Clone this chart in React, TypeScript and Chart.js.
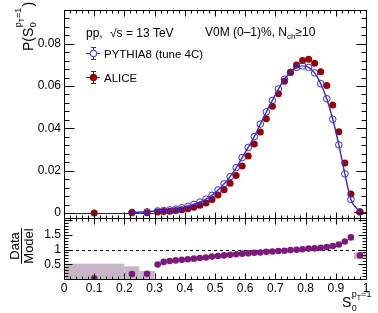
import { useEffect, useRef } from 'react';
import { Chart, registerables } from 'chart.js';

Chart.register(...registerables);

const FONT = '"Liberation Sans", Arial, Helvetica, sans-serif';
const RED = '#990000';
const BLUE = '#3a2ac8';
const PURPLE = '#7b1a7b';
const SYS = '#c8b5c8';

// bin centres of the measurement
const xPoints = [0.1, 0.225, 0.275, 0.31, 0.33, 0.35, 0.37, 0.39, 0.41, 0.43, 0.45, 0.47, 0.49, 0.51, 0.53, 0.55, 0.57, 0.59, 0.61, 0.63, 0.65, 0.67, 0.69, 0.71, 0.73, 0.75, 0.77, 0.79, 0.81, 0.83, 0.85, 0.87, 0.89, 0.91, 0.93, 0.95, 0.98];
// ALICE data P(S0)
const aliceY = [0.0000, 0.0001, 0.0002, 0.0005, 0.0007, 0.0009, 0.0012, 0.0016, 0.0021, 0.0028, 0.0037, 0.0048, 0.0064, 0.0085, 0.0110, 0.0141, 0.0178, 0.0222, 0.0270, 0.0326, 0.0383, 0.0445, 0.0505, 0.0564, 0.0622, 0.0664, 0.0699, 0.0720, 0.0726, 0.0707, 0.0667, 0.0603, 0.0510, 0.0384, 0.0236, 0.0090, 0.0006];
// PYTHIA8 (tune 4C)
const pythiaX = [0.225, 0.275, 0.31, 0.33, 0.35, 0.37, 0.39, 0.41, 0.43, 0.45, 0.47, 0.49, 0.51, 0.53, 0.55, 0.57, 0.59, 0.61, 0.63, 0.65, 0.67, 0.69, 0.71, 0.73, 0.75, 0.77, 0.79, 0.81, 0.83, 0.85, 0.87, 0.89, 0.91, 0.93, 0.95, 0.98];
const pythiaY = [0.0003, 0.0006, 0.0010, 0.0012, 0.0015, 0.0019, 0.0025, 0.0031, 0.0041, 0.0052, 0.0066, 0.0084, 0.0109, 0.0138, 0.0172, 0.0214, 0.0262, 0.0310, 0.0361, 0.0420, 0.0478, 0.0532, 0.0586, 0.0632, 0.0665, 0.0688, 0.0695, 0.0688, 0.0662, 0.0611, 0.0540, 0.0443, 0.0322, 0.0185, 0.0064, 0.0005];
// Data / Model
const ratioY = [0.02, 0.17, 0.18, 0.49, 0.58, 0.61, 0.63, 0.65, 0.67, 0.69, 0.71, 0.73, 0.76, 0.78, 0.80, 0.82, 0.84, 0.86, 0.87, 0.89, 0.90, 0.92, 0.93, 0.95, 0.96, 0.98, 0.99, 1.01, 1.03, 1.04, 1.06, 1.08, 1.12, 1.17, 1.27, 1.41, 0.80];
// systematic boxes in the ratio panel
const sysX0 = [0, 0.2, 0.25, 0.30, 0.96];
const sysX1 = [0.2, 0.25, 0.3, 0.32, 1.0];
const sysLo = [0, 0, 0, 0.43, 0.68];
const sysHi = [0.52, 0.43, 0.27, 0.55, 0.9];
// wide bins of the data (horizontal bars)
const wideIdx = [0, 1, 2, 36];
const wideLo = [0, 0.2, 0.25, 0.96];
const wideHi = [0.2, 0.25, 0.3, 1.0];
// tick labels
const xTicks = [0, 0.1, 0.2, 0.3, 0.4, 0.5, 0.6, 0.7, 0.8, 0.9, 1];
const xTickLabels = ['0', '0.1', '0.2', '0.3', '0.4', '0.5', '0.6', '0.7', '0.8', '0.9', '1'];
const yTicks = [0, 0.02, 0.04, 0.06, 0.08];
const yTickLabels = ['0', '0.02', '0.04', '0.06', '0.08'];
const rTicks = [0.5, 1, 1.5];
const rTickLabels = ['0.5', '1', '1.5'];

const px = (v: number) => Math.round(v) + 0.5;

function seg(ctx: CanvasRenderingContext2D, x1: number, y1: number, x2: number, y2: number) {
  ctx.beginPath();
  ctx.moveTo(x1, y1);
  ctx.lineTo(x2, y2);
  ctx.stroke();
}

function legendMarker(ctx: CanvasRenderingContext2D, cx: number, cy: number, color: string, filled: boolean) {
  ctx.strokeStyle = color;
  ctx.lineWidth = 1;
  seg(ctx, cx - 7, cy + 0.5, cx + 7, cy + 0.5);
  seg(ctx, cx + 0.5, cy - 6, cx + 0.5, cy + 7);
  seg(ctx, cx - 2, cy - 5.5, cx + 3, cy - 5.5);
  seg(ctx, cx - 2, cy + 6.5, cx + 3, cy + 6.5);
  ctx.beginPath();
  ctx.arc(cx + 0.5, cy + 0.5, 3.3, 0, Math.PI * 2);
  ctx.fillStyle = filled ? color : '#fff';
  ctx.fill();
  ctx.stroke();
}

const decor = {
  id: 'decor',
  beforeDatasetsDraw(chart: any) {
    const ctx: CanvasRenderingContext2D = chart.ctx;
    const x = chart.scales.x, yT = chart.scales.y, yR = chart.scales.yR;
    ctx.save();
    ctx.fillStyle = SYS;
    for (let i = 0; i < sysX0.length; i++) {
      const l = x.getPixelForValue(sysX0[i]);
      const r = x.getPixelForValue(sysX1[i]);
      const t = yR.getPixelForValue(sysHi[i]);
      const b = yR.getPixelForValue(sysLo[i]);
      ctx.fillRect(l, t, r - l, b - t);
    }
    ctx.strokeStyle = '#000';
    ctx.lineWidth = 1;
    ctx.setLineDash([3, 3]);
    const y1 = px(yR.getPixelForValue(1));
    seg(ctx, chart.chartArea.left, y1, chart.chartArea.right, y1);
    ctx.setLineDash([]);
    ctx.strokeStyle = RED;
    for (let i = 0; i < wideIdx.length; i++) {
      const yy = px(yT.getPixelForValue(aliceY[wideIdx[i]]));
      seg(ctx, x.getPixelForValue(wideLo[i]), yy, x.getPixelForValue(wideHi[i]), yy);
    }
    ctx.restore();
  },
  afterDraw(chart: any) {
    const ctx: CanvasRenderingContext2D = chart.ctx;
    const x = chart.scales.x, yT = chart.scales.y, yR = chart.scales.yR;
    const L = px(chart.chartArea.left), R = px(chart.chartArea.right);
    const T = px(yT.top), M = px(yT.bottom), B = px(yR.bottom);
    ctx.save();
    ctx.strokeStyle = '#000';
    ctx.lineWidth = 1;
    ctx.strokeRect(L, T, R - L, B - T);
    seg(ctx, L, M, R, M);
    for (let i = 0; i <= 50; i++) {
      const X = px(x.getPixelForValue(i / 50));
      const major = i % 5 === 0;
      const lt = major ? 6 : 3;
      seg(ctx, X, T, X, T + lt);
      seg(ctx, X, M, X, M - lt);
      seg(ctx, X, M, X, M + lt);
      seg(ctx, X, B, X, B - lt);
    }
    for (let i = 0; i <= 23; i++) {
      const Y = px(yT.getPixelForValue(i * 0.004));
      if (Y <= T) continue;
      const lt = i % 5 === 0 ? 10 : 5;
      seg(ctx, L, Y, L + lt, Y);
      seg(ctx, R, Y, R - lt, Y);
    }
    for (let i = 1; i <= 20; i++) {
      const Y = px(yR.getPixelForValue(i * 0.1));
      if (Y <= M) continue;
      const lt = i % 5 === 0 ? 8 : 4;
      seg(ctx, L, Y, L + lt, Y);
      seg(ctx, R, Y, R - lt, Y);
    }

    // header texts
    ctx.fillStyle = '#000';
    ctx.textAlign = 'left';
    ctx.textBaseline = 'alphabetic';
    ctx.font = `12px ${FONT}`;
    ctx.fillText('pp,', 86, 37);
    ctx.fillText('\u221As = 13 TeV', 110, 37);
    const t1 = 'V0M (0\u20131)%, N';
    ctx.fillText(t1, 205, 36);
    let w = ctx.measureText(t1).width;
    ctx.font = `8px ${FONT}`;
    ctx.fillText('ch', 205 + w, 39);
    w += ctx.measureText('ch').width;
    ctx.font = `12px ${FONT}`;
    ctx.fillText('\u226510', 205 + w, 36);

    // legend
    legendMarker(ctx, 93, 53, BLUE, false);
    legendMarker(ctx, 93, 77, RED, true);
    ctx.fillStyle = '#000';
    ctx.font = `11.5px ${FONT}`;
    ctx.fillText('PYTHIA8 (tune 4C)', 104, 58);
    ctx.fillText('ALICE', 104, 82);

    // y title
    ctx.save();
    ctx.translate(33, 51);
    ctx.rotate(-Math.PI / 2);
    ctx.font = `14px ${FONT}`;
    ctx.fillText('P(S', 0, 0);
    const a = ctx.measureText('P(S').width + 0.5;
    ctx.font = `9px ${FONT}`;
    ctx.fillText('0', a, 3);
    ctx.fillText('p', a, -12);
    let b = a + ctx.measureText('p').width;
    ctx.font = `7px ${FONT}`;
    ctx.fillText('T', b, -9.5);
    b += ctx.measureText('T').width;
    ctx.font = `9px ${FONT}`;
    ctx.fillText('=1', b, -12);
    b += ctx.measureText('=1').width + 1;
    ctx.font = `14px ${FONT}`;
    ctx.fillText(')', b, 0);
    ctx.restore();

    // ratio title
    ctx.save();
    ctx.translate(21, 246);
    ctx.rotate(-Math.PI / 2);
    ctx.font = `13px ${FONT}`;
    ctx.textAlign = 'center';
    ctx.fillText('Data', 0, -2);
    ctx.fillText('Model', 0, 12);
    const mw = ctx.measureText('Model').width;
    ctx.strokeStyle = '#000';
    seg(ctx, -mw / 2, 0.5, mw / 2, 0.5);
    ctx.restore();

    // x title
    ctx.font = `14px ${FONT}`;
    ctx.fillText('S', 342, 307);
    const sw = ctx.measureText('S').width + 0.5;
    ctx.font = `9px ${FONT}`;
    ctx.fillText('0', 342 + sw, 311);
    ctx.fillText('p', 342 + sw, 297);
    let c = 342 + sw + ctx.measureText('p').width;
    ctx.font = `7px ${FONT}`;
    ctx.fillText('T', c, 299.5);
    c += ctx.measureText('T').width;
    ctx.font = `9px ${FONT}`;
    ctx.fillText('=1', c, 297);
    ctx.restore();
  },
};

export default function App() {
  const ref = useRef<HTMLCanvasElement>(null);
  useEffect(() => {
    const tickFont = { family: FONT, size: 12 };
    const chart = new Chart(ref.current as HTMLCanvasElement, {
      type: 'line',
      data: {
        datasets: [
          {
            label: 'PYTHIA8 (tune 4C)',
            data: pythiaX.map((v, i) => ({ x: v, y: pythiaY[i] })),
            yAxisID: 'y',
            borderColor: BLUE,
            borderWidth: 1.4,
            showLine: true,
            cubicInterpolationMode: 'monotone',
            pointRadius: 3.3,
            pointBorderWidth: 1,
            pointBorderColor: BLUE,
            pointBackgroundColor: 'rgba(0,0,0,0)',
            fill: false,
            order: 0,
          },
          {
            label: 'ALICE',
            data: xPoints.map((v, i) => ({ x: v, y: aliceY[i] })),
            yAxisID: 'y',
            showLine: false,
            pointRadius: 3.5,
            pointBorderWidth: 0,
            pointBackgroundColor: RED,
            pointBorderColor: RED,
            order: 1,
          },
          {
            label: 'Data/Model',
            data: xPoints.map((v, i) => ({ x: v, y: ratioY[i] })),
            yAxisID: 'yR',
            showLine: false,
            pointRadius: 3.3,
            pointBorderWidth: 0,
            pointBackgroundColor: PURPLE,
            pointBorderColor: PURPLE,
            order: 2,
          },
        ],
      } as any,
      options: {
        responsive: false,
        animation: false,
        devicePixelRatio: 1,
        layout: { padding: { left: 0, right: 12, top: 6, bottom: 0 } },
        plugins: { legend: { display: false }, tooltip: { enabled: false } },
        scales: {
          x: {
            type: 'linear',
            min: 0,
            max: 1,
            grid: { display: false, drawTicks: false },
            border: { display: false },
            ticks: {
              font: tickFont,
              color: '#000',
              padding: 2,
              autoSkip: false,
              maxRotation: 0,
              callback: (v: any) => xTickLabels[xTicks.indexOf(Number(v))] ?? '',
            },
            afterBuildTicks: (s: any) => {
              s.ticks = xTicks.map((v) => ({ value: v }));
            },
            afterFit: (s: any) => {
              s.height = 34;
            },
          },
          yR: {
            type: 'linear',
            position: 'left',
            stack: 'panels',
            stackWeight: 62,
            min: 0,
            max: 2.07,
            grid: { display: false, drawTicks: false },
            border: { display: false },
            ticks: {
              font: tickFont,
              color: '#000',
              padding: 3,
              autoSkip: false,
              callback: (v: any) => rTickLabels[rTicks.indexOf(Number(v))] ?? '',
            },
            afterBuildTicks: (s: any) => {
              s.ticks = rTicks.map((v) => ({ value: v }));
            },
            afterFit: (s: any) => {
              s.width = 64;
            },
          },
          y: {
            type: 'linear',
            position: 'left',
            stack: 'panels',
            stackWeight: 211,
            min: -0.0023,
            max: 0.0958,
            grid: { display: false, drawTicks: false },
            border: { display: false },
            ticks: {
              font: tickFont,
              color: '#000',
              padding: 3,
              autoSkip: false,
              callback: (v: any) => yTickLabels[yTicks.indexOf(Number(v))] ?? '',
            },
            afterBuildTicks: (s: any) => {
              s.ticks = yTicks.map((v) => ({ value: v }));
            },
            afterFit: (s: any) => {
              s.width = 64;
            },
          },
        },
      } as any,
      plugins: [decor],
    });
    return () => chart.destroy();
  }, []);
  return (
    <div style={{ position: 'fixed', left: 0, top: 0, width: 378, height: 313, background: '#fff' }}>
      <canvas ref={ref} width={378} height={313} style={{ width: 378, height: 313, display: 'block' }} />
    </div>
  );
}
